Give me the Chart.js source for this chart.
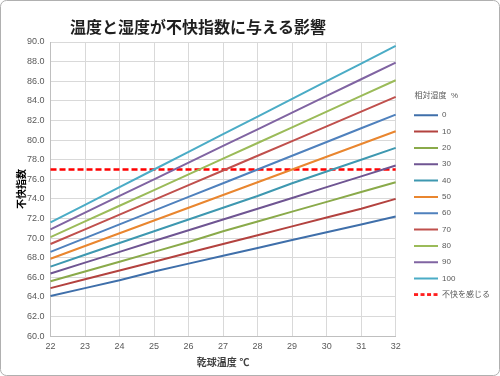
<!DOCTYPE html>
<html>
<head>
<meta charset="utf-8">
<script src="https://cdn.jsdelivr.net/npm/chart.js@4"></script>
<style>
  html, body { margin: 0; padding: 0; background: #fff; }
</style>
</head>
<body>
<canvas id="chart" width="500" height="376"></canvas>
<script>
// 乾球温度 (℃)
const temps = ['22', '23', '24', '25', '26', '27', '28', '29', '30', '31', '32'];

// 不快指数, 相対湿度ごと
const rh0   = [64.1, 64.9, 65.7, 66.6, 67.4, 68.2, 69.0, 69.8, 70.6, 71.4, 72.2];
const rh10  = [64.9, 65.8, 66.7, 67.6, 68.5, 69.4, 70.3, 71.2, 72.1, 73.0, 74.0];
const rh20  = [65.6, 66.6, 67.6, 68.6, 69.6, 70.7, 71.7, 72.7, 73.7, 74.7, 75.7];
const rh30  = [66.4, 67.5, 68.6, 69.7, 70.8, 71.9, 73.0, 74.1, 75.2, 76.3, 77.4];
const rh40  = [67.1, 68.3, 69.5, 70.7, 71.9, 73.1, 74.3, 75.6, 76.8, 78.0, 79.2];
const rh50  = [67.9, 69.2, 70.5, 71.8, 73.1, 74.4, 75.7, 77.0, 78.3, 79.6, 80.9];
const rh60  = [68.6, 70.0, 71.4, 72.8, 74.2, 75.6, 77.0, 78.4, 79.8, 81.2, 82.6];
const rh70  = [69.4, 70.9, 72.4, 73.9, 75.4, 76.9, 78.4, 79.9, 81.4, 82.9, 84.4];
const rh80  = [70.1, 71.7, 73.3, 74.9, 76.5, 78.1, 79.7, 81.3, 82.9, 84.5, 86.1];
const rh90  = [70.9, 72.6, 74.3, 76.0, 77.7, 79.4, 81.1, 82.8, 84.5, 86.2, 87.9];
const rh100 = [71.6, 73.4, 75.2, 77.0, 78.8, 80.6, 82.4, 84.2, 86.0, 87.8, 89.6];

// 不快を感じる目安
const threshold = [77, 77, 77, 77, 77, 77, 77, 77, 77, 77, 77];

const humidityNames = ['0', '10', '20', '30', '40', '50', '60', '70', '80', '90', '100'];
const humiditySeries = [rh0, rh10, rh20, rh30, rh40, rh50, rh60, rh70, rh80, rh90, rh100];

const lineColors = ['#3F6FAA', '#B3423F', '#8AAA4A', '#6F5592', '#3E98B0', '#E9862F',
                    '#4F81BD', '#C0504D', '#9BBB59', '#8064A2', '#4BACC6'];

const fontFamily = "'Liberation Sans', 'Noto Sans CJK JP', sans-serif";
Chart.defaults.font.family = fontFamily;

// 凡例用の破線サンプル
const dashSample = document.createElement('canvas');
dashSample.width = 24;
dashSample.height = 3;
(function () {
  const c = dashSample.getContext('2d');
  c.strokeStyle = '#FF0000';
  c.lineWidth = 2.5;
  c.setLineDash([4, 2.5]);
  c.beginPath();
  c.moveTo(0, 1.5);
  c.lineTo(24, 1.5);
  c.stroke();
})();

const datasets = humiditySeries.map((vals, i) => ({
  label: humidityNames[i],
  data: vals,
  borderColor: lineColors[i],
  backgroundColor: lineColors[i],
  borderWidth: 2,
  pointRadius: 0,
  pointStyle: 'line',
  tension: 0
}));
datasets.push({
  label: '不快を感じる',
  data: threshold,
  borderColor: '#FF0000',
  backgroundColor: '#FF0000',
  borderWidth: 2.5,
  borderDash: [6, 3],
  pointRadius: 0,
  pointStyle: dashSample
});

// 枠と白背景
const frame = {
  id: 'frame',
  beforeDraw(chart) {
    const ctx = chart.ctx;
    ctx.save();
    ctx.fillStyle = '#fff';
    ctx.fillRect(0, 0, chart.width, chart.height);
    ctx.strokeStyle = '#B0B0B0';
    ctx.lineWidth = 1;
    ctx.beginPath();
    ctx.roundRect(0.5, 0.5, chart.width - 1, chart.height - 1, 6);
    ctx.stroke();
    ctx.restore();
  }
};

// グラフタイトル
const heading = {
  id: 'heading',
  afterDraw(chart) {
    const ctx = chart.ctx;
    ctx.save();
    ctx.font = "bold 16px 'Noto Sans CJK JP', sans-serif";
    ctx.fillStyle = '#1F1F1F';
    ctx.textAlign = 'left';
    ctx.textBaseline = 'middle';
    ctx.fillText('温度と湿度が不快指数に与える影響', 70, 27);
    ctx.restore();
  }
};

new Chart(document.getElementById('chart'), {
  type: 'line',
  data: { labels: temps, datasets: datasets },
  plugins: [frame, heading],
  options: {
    responsive: false,
    animation: false,
    layout: { padding: { left: 16, top: 42, right: 0, bottom: 7 } },
    plugins: {
      title: { display: false },
      tooltip: { enabled: false },
      legend: {
        position: 'right',
        align: 'center',
        fullSize: false,
        maxWidth: 100,
        title: {
          display: true,
          text: '    相対湿度  %',
          position: 'start',
          color: '#595959',
          font: { size: 8 },
          padding: { top: 20.7, bottom: 1.7 }
        },
        labels: {
          usePointStyle: true,
          pointStyleWidth: 24,
          boxWidth: 24,
          boxHeight: 8,
          padding: 8.33,
          color: '#595959',
          font: { size: 8 }
        }
      }
    },
    scales: {
      x: {
        grid: { color: '#D9D9D9', drawTicks: false },
        border: { color: '#BFBFBF' },
        ticks: { color: '#595959', font: { size: 9 }, padding: 5, maxRotation: 0 },
        title: {
          display: true,
          text: '乾球温度 ℃',
          color: '#404040',
          font: { size: 10, weight: 'bold' },
          padding: { top: 0, bottom: 0 }
        }
      },
      y: {
        min: 60,
        max: 90,
        grid: { color: '#D9D9D9', drawTicks: false },
        border: { color: '#BFBFBF' },
        ticks: {
          stepSize: 2,
          color: '#595959',
          font: { size: 9 },
          padding: 6,
          callback: (v) => v.toFixed(1)
        },
        title: {
          display: true,
          text: '不快指数',
          color: '#000',
          font: { size: 10, weight: 'bold' },
          padding: { top: 0, bottom: -7 }
        }
      },
      gap: {
        position: 'right',
        display: true,
        grid: { display: false },
        border: { display: false },
        ticks: { display: false },
        afterFit: (scale) => { scale.width = 10; }
      }
    }
  }
});
</script>
</body>
</html>
